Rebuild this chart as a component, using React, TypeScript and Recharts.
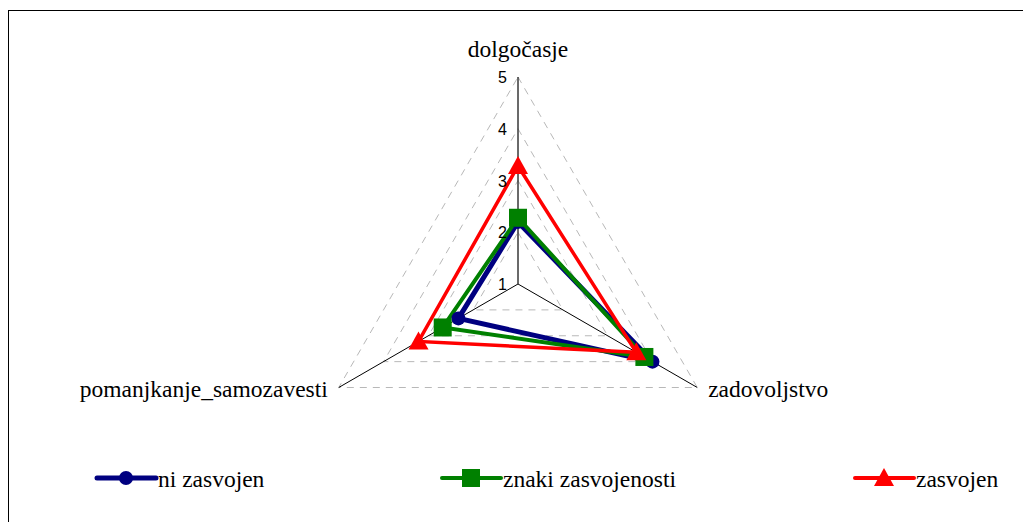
import { RadarChart, Radar, PolarGrid, PolarAngleAxis, PolarRadiusAxis, Legend } from 'recharts';

const categories = ['dolgočasje', 'zadovoljstvo', 'pomanjkanje_samozavesti'];
const niZasvojen = [2.2, 4.0, 2.33];
const znakiZasvojenosti = [2.28, 3.82, 2.68];
const zasvojen = [3.28, 3.64, 3.22];
const radiusTicks = [1, 2, 3, 4, 5];

const data = categories.map((cat, i) => ({
  cat,
  ni: niZasvojen[i],
  znaki: znakiZasvojenosti[i],
  zas: zasvojen[i],
}));

const serif = "'Liberation Serif', 'DejaVu Serif', serif";
const sans = "'Liberation Sans', Arial, sans-serif";

const BLUE = '#000080';
const GREEN = '#008000';
const RED = '#FF0000';

function Circle(p: any) {
  return <circle key={p.key ?? p.index} cx={p.cx} cy={p.cy} r={7} fill={BLUE} />;
}
function Square(p: any) {
  return <rect key={p.key ?? p.index} x={p.cx - 9} y={p.cy - 9} width={18} height={18} fill={GREEN} />;
}
function Tri(p: any) {
  const { cx, cy } = p;
  return <polygon key={p.key ?? p.index} points={`${cx},${cy - 10} ${cx - 10},${cy + 8} ${cx + 10},${cy + 8}`} fill={RED} />;
}

function AngleTick(props: any) {
  const { x, y, textAnchor, payload } = props;
  let tx = x, ty = y;
  if (textAnchor === 'middle') ty = y - 12;
  else if (textAnchor === 'start') { tx = x + 4; ty = y + 5; }
  else { tx = x - 4; ty = y + 5; }
  return (
    <text x={tx} y={ty} textAnchor={textAnchor} style={{ fontFamily: serif, fontSize: 23.5 }} fill="#000">
      {payload.value}
    </text>
  );
}

function RadiusTick(props: any) {
  const { x, y, payload } = props;
  return (
    <text x={x - 11} y={y + 6} textAnchor="end" style={{ fontFamily: sans, fontSize: 16 }} fill="#000">
      {payload.value}
    </text>
  );
}

const legendItems = [
  { name: 'ni zasvojen', color: BLUE, width: 5, x: 97, marker: 'circle' },
  { name: 'znaki zasvojenosti', color: GREEN, width: 4, x: 442, marker: 'square' },
  { name: 'zasvojen', color: RED, width: 4, x: 855, marker: 'triangle' },
];

function LegendContent() {
  return (
    <svg width={1023} height={40}>
      {legendItems.map((it) => {
        const mx = it.x + 29;
        const my = 18;
        return (
          <g key={it.name}>
            <line x1={it.x} x2={it.x + 59} y1={my} y2={my} stroke={it.color} strokeWidth={it.width} strokeLinecap="round" />
            {it.marker === 'circle' && <circle cx={mx} cy={my} r={7} fill={it.color} />}
            {it.marker === 'square' && <rect x={mx - 9} y={my - 9} width={18} height={18} fill={it.color} />}
            {it.marker === 'triangle' && (
              <polygon points={`${mx},${my - 10} ${mx - 10},${my + 8} ${mx + 10},${my + 8}`} fill={it.color} />
            )}
            <text x={it.x + 61} y={27} style={{ fontFamily: serif, fontSize: 23.5 }} fill="#000">
              {it.name}
            </text>
          </g>
        );
      })}
    </svg>
  );
}

export default function App() {
  return (
    <div style={{ position: 'relative', width: 1023, height: 522, overflow: 'hidden', background: '#fff', fontFamily: serif }}>
      <style>{`html,body{margin:0;overflow:hidden;}`}</style>
      <div
        style={{
          position: 'absolute',
          left: 8,
          top: 10,
          width: 1040,
          height: 540,
          border: '1px solid #000',
        }}
      />
      <div style={{ position: 'absolute', left: 0, top: 0 }}>
        <RadarChart
          width={1023}
          height={522}
          data={data}
          cx={518}
          cy={284}
          outerRadius={207}
          margin={{ top: 0, right: 0, bottom: 0, left: 0 }}
        >
          <PolarGrid gridType="polygon" radialLines={false} stroke="#b8b8b8" strokeDasharray="7 6" />
          <PolarGrid gridType="polygon" polarRadius={[]} stroke="#000" />
          <PolarAngleAxis dataKey="cat" tick={<AngleTick />} tickLine={false} axisLine={false} />
          <PolarRadiusAxis
            angle={90}
            domain={[1, 5]}
            ticks={radiusTicks}
            type="number"
            tick={<RadiusTick />}
            tickLine={false}
            axisLine={{ stroke: '#555' }}
          />
          <Radar name="ni zasvojen" dataKey="ni" stroke={BLUE} strokeWidth={5} fill="none" fillOpacity={0} dot={Circle} isAnimationActive={false} />
          <Radar name="znaki zasvojenosti" dataKey="znaki" stroke={GREEN} strokeWidth={4} fill="none" fillOpacity={0} dot={Square} isAnimationActive={false} />
          <Radar name="zasvojen" dataKey="zas" stroke={RED} strokeWidth={3.5} fill="none" fillOpacity={0} dot={Tri} isAnimationActive={false} />
          <Legend content={<LegendContent />} wrapperStyle={{ left: 0, top: 460, width: 1023 }} />
        </RadarChart>
      </div>
    </div>
  );
}
